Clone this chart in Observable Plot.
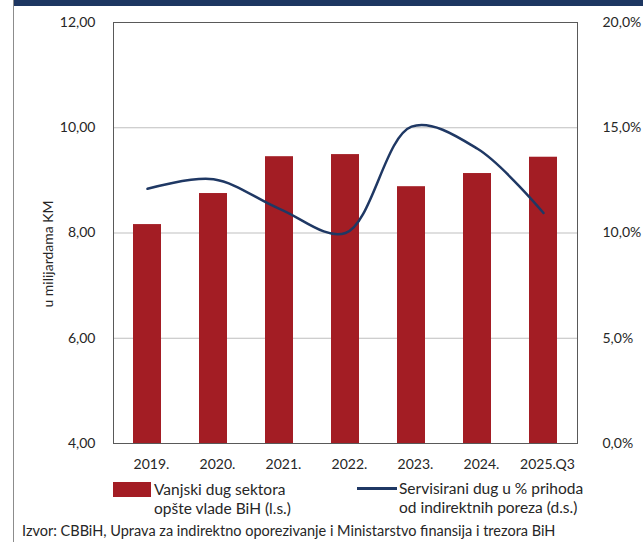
<!DOCTYPE html>
<html>
<head>
<meta charset="utf-8">
<script src="https://cdn.jsdelivr.net/npm/d3@7"></script>
<script src="https://cdn.jsdelivr.net/npm/@observablehq/plot@0.6"></script>
<style>
  html, body { margin: 0; padding: 0; background: #fff; }
  #wrap { position: relative; width: 643px; height: 542px; overflow: hidden; font-family: Lato, "Open Sans", sans-serif; color: #262626; }
  #band { position: absolute; left: 13px; top: 0; width: 630px; height: 6px; background: #1d3661; }
  #vline { position: absolute; left: 13px; top: 0; width: 1px; height: 542px; background: #8c8c8c; }
  #chart { position: absolute; left: 0; top: 0; }
  #ylab { position: absolute; left: 47px; top: 254px; transform: translate(-50%, -50%) rotate(-90deg); font-size: 14px; white-space: nowrap; }
  .leg { position: absolute; font-size: 15.5px; line-height: 19px; white-space: nowrap; }
  #sw1 { position: absolute; left: 113px; top: 482px; width: 38px; height: 15px; background: #a31d24; }
  #sw2 { position: absolute; left: 357px; top: 487px; width: 40px; height: 3px; background: #1f3864; }
  #foot { position: absolute; left: 22px; top: 522px; font-size: 14.5px; white-space: nowrap; }
</style>
</head>
<body>
<div id="wrap">
  <div id="band"></div>
  <div id="vline"></div>
  <div id="chart"></div>
  <div id="ylab">u milijardama KM</div>
  <div id="sw1"></div>
  <div class="leg" style="left:154px; top:480px;">Vanjski dug sektora<br>opšte vlade BiH (l.s.)</div>
  <div id="sw2"></div>
  <div class="leg" style="left:399px; top:479px;">Servisirani dug u % prihoda<br>od indirektnih poreza (d.s.)</div>
  <div id="foot">Izvor: CBBiH, Uprava za indirektno oporezivanje i Ministarstvo finansija i trezora BiH</div>
</div>
<script>
const categories = ["2019.", "2020.", "2021.", "2022.", "2023.", "2024.", "2025.Q3"];
const debtBn = [8.16, 8.75, 9.45, 9.49, 8.88, 9.13, 9.44];
const servicePct = [12.1, 12.55, 11.15, 10.0, 15.05, 14.0, 10.95];
const leftTicks = [4, 6, 8, 10, 12];
const rightTicks = [0, 5, 10, 15, 20];

// right axis (0–20%) mapped onto left scale (4–12)
const pctToLeft = p => 4 + p * 8 / 20;
const leftToPct = v => (v - 4) * 20 / 8;

const bars = categories.map((c, i) => ({cat: c, v: debtBn[i]}));
const line = categories.map((c, i) => ({cat: c, p: servicePct[i]}));

const fmt2 = d => d.toFixed(2).replace(".", ",");
const fmtPct = d => leftToPct(d).toFixed(1).replace(".", ",") + "%";

const chart = Plot.plot({
  width: 643,
  height: 480,
  marginLeft: 113,
  marginRight: 66,
  marginTop: 22,
  marginBottom: 37,
  style: {fontFamily: "Lato, 'Open Sans', sans-serif", fontSize: "14px", color: "#262626", background: "transparent"},
  x: {type: "band", domain: categories, paddingInner: 0.57, paddingOuter: 0.285, label: null},
  y: {domain: [4, 12], label: null},
  marks: [
    Plot.ruleY([6, 8, 10], {stroke: "#bfbfbf", strokeWidth: 1}),
    Plot.barY(bars, {x: "cat", y1: 4, y2: "v", fill: "#a31d24"}),
    Plot.line(line, {x: "cat", y: d => pctToLeft(d.p), curve: "catmull-rom", stroke: "#1f3864", strokeWidth: 2.5}),
    Plot.frame({stroke: "#595959", strokeWidth: 1}),
    Plot.axisY({ticks: leftTicks, tickSize: 0, tickPadding: 18, tickFormat: fmt2, label: null, fontSize: 14}),
    Plot.axisY({anchor: "right", ticks: rightTicks.map(pctToLeft), tickSize: 0, tickPadding: 25, tickFormat: fmtPct, label: null, fontSize: 14}),
    Plot.axisX({tickSize: 0, tickPadding: 16, dx: 4, label: null, fontSize: 14})
  ]
});
document.getElementById("chart").appendChild(chart);
</script>
</body>
</html>
